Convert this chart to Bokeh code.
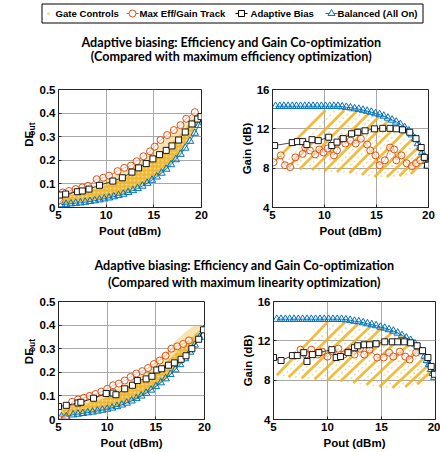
from math import pi
from bokeh.plotting import figure
from bokeh.models import Range1d, FixedTicker
from bokeh.layouts import column, row
from bokeh.embed import file_html
from bokeh.resources import INLINE
from bokeh.core.properties import value

# ---------------- data ----------------
legend_labels = ["Gate Controls", "Max Eff/Gain Track", "Adaptive Bias", "Balanced (All On)"]
title_top = ["Adaptive biasing: Efficiency and Gain Co-optimization",
             "(Compared with maximum efficiency optimization)"]
title_bottom = ["Adaptive biasing: Efficiency and Gain Co-optimization",
                "(Compared with maximum linearity optimization)"]
x_ticks = [5, 10, 15, 20]
de_ticks = [0, 0.1, 0.2, 0.3, 0.4, 0.5]
gain_ticks = [4, 8, 12, 16]

# --- top-left: DE, efficiency comparison
de1_circ_x = [5.1, 5.45, 6.1, 6.8, 7.5, 8.1, 9.0, 9.7, 10.3, 11.2, 11.9, 12.6, 13.2, 13.9, 14.6, 15.1, 15.7, 16.4, 17.1, 17.8, 18.4, 19.3]
de1_circ_y = [0.03, 0.064, 0.07, 0.078, 0.085, 0.092, 0.12, 0.126, 0.135, 0.154, 0.168, 0.178, 0.196, 0.217, 0.238, 0.258, 0.286, 0.307, 0.328, 0.349, 0.376, 0.404]
de1_sq_x = [5.1, 5.75, 7.0, 7.5, 8.2, 9.3, 10.7, 11.7, 12.7, 13.4, 14.2, 14.9, 15.6, 16.3, 16.9, 17.6, 18.3, 19.0, 19.6, 19.95]
de1_sq_y = [0.053, 0.057, 0.067, 0.07, 0.078, 0.094, 0.112, 0.126, 0.15, 0.168, 0.186, 0.206, 0.224, 0.242, 0.261, 0.286, 0.32, 0.354, 0.375, 0.385]
de1_tri_x = [5.3, 5.8, 6.3, 6.8, 7.3, 7.8, 8.3, 8.8, 9.3, 9.8, 10.3, 10.8, 11.3, 11.8, 12.3, 12.8, 13.3, 13.8, 14.3, 14.8, 15.3, 15.8, 16.3, 16.8, 17.3, 17.8, 18.3, 18.8, 19.3, 19.7, 20.0]
de1_tri_y = [0.012, 0.014, 0.016, 0.018, 0.02, 0.023, 0.026, 0.029, 0.033, 0.037, 0.041, 0.046, 0.051, 0.057, 0.064, 0.072, 0.081, 0.091, 0.103, 0.116, 0.13, 0.146, 0.163, 0.182, 0.203, 0.226, 0.252, 0.281, 0.315, 0.348, 0.378]
de1_band_x = [5.3, 6, 7, 8, 9, 10, 11, 12, 13, 14, 15, 16, 17, 18, 19, 19.8]
de1_band_lo = [0.015, 0.018, 0.022, 0.028, 0.034, 0.04, 0.05, 0.063, 0.08, 0.1, 0.125, 0.155, 0.195, 0.245, 0.31, 0.37]
de1_band_hi = [0.04, 0.05, 0.06, 0.07, 0.08, 0.095, 0.11, 0.13, 0.15, 0.175, 0.205, 0.24, 0.28, 0.32, 0.37, 0.39]
de1_band_out = [0.05, 0.065, 0.075, 0.085, 0.1, 0.12, 0.14, 0.16, 0.185, 0.21, 0.245, 0.28, 0.315, 0.35, 0.39, 0.395]

# --- bottom-left: DE, linearity comparison
de2_circ_x = [5.0, 5.7, 6.4, 7.0, 7.6, 8.2, 8.8, 9.4, 10.0, 10.6, 11.2, 11.8, 12.4, 13.0, 13.6, 14.2, 14.8, 15.4, 16.0, 16.6, 17.2, 17.8, 18.4]
de2_circ_y = [0.003, 0.003, 0.075, 0.085, 0.092, 0.1, 0.108, 0.118, 0.13, 0.145, 0.152, 0.165, 0.18, 0.195, 0.205, 0.218, 0.235, 0.25, 0.27, 0.3, 0.31, 0.32, 0.335]
de2_sq_x = [5.0, 5.8, 7.0, 7.3, 8.6, 9.9, 10.6, 10.9, 11.8, 12.6, 13.1, 14.0, 14.6, 15.1, 15.6, 16.3, 16.9, 17.6, 18.1, 18.7, 19.4, 19.9]
de2_sq_y = [0.055, 0.06, 0.07, 0.073, 0.09, 0.11, 0.112, 0.105, 0.13, 0.145, 0.165, 0.172, 0.183, 0.21, 0.215, 0.23, 0.24, 0.255, 0.27, 0.3, 0.34, 0.38]
de2_tri_x = [5.3, 5.8, 6.5, 7.0, 7.5, 8.0, 8.5, 9.0, 9.5, 10.0, 10.5, 11.0, 11.5, 12.0, 12.5, 13.0, 13.5, 14.0, 14.5, 15.0, 15.5, 16.0, 16.5, 17.0, 17.5, 18.0, 18.5, 19.0, 19.5, 19.9]
de2_tri_y = [0.012, 0.012, 0.02, 0.023, 0.026, 0.029, 0.032, 0.036, 0.04, 0.044, 0.049, 0.055, 0.062, 0.07, 0.079, 0.089, 0.1, 0.112, 0.125, 0.14, 0.156, 0.173, 0.191, 0.211, 0.233, 0.258, 0.286, 0.316, 0.348, 0.38]
de2_band_x = [5.3, 6, 7, 8, 9, 10, 11, 12, 13, 14, 15, 16, 17, 18, 19, 19.8]
de2_band_lo = [0.012, 0.018, 0.025, 0.03, 0.037, 0.045, 0.055, 0.07, 0.085, 0.11, 0.14, 0.17, 0.21, 0.26, 0.32, 0.37]
de2_band_hi = [0.04, 0.05, 0.06, 0.07, 0.08, 0.095, 0.11, 0.13, 0.15, 0.175, 0.205, 0.24, 0.28, 0.32, 0.36, 0.39]
de2_band_out = [0.05, 0.06, 0.075, 0.09, 0.1, 0.115, 0.13, 0.15, 0.175, 0.21, 0.25, 0.29, 0.33, 0.37, 0.4, 0.4]

# --- top-right: Gain, efficiency comparison
g1_tri_x = [5.3, 5.7, 6.1, 6.5, 6.9, 7.3, 7.7, 8.1, 8.5, 8.9, 9.3, 9.7, 10.1, 10.5, 10.9, 11.3, 11.7, 12.1, 12.5, 12.9, 13.3, 13.7, 14.1, 14.5, 14.9, 15.3, 15.7, 16.1, 16.5, 16.9, 17.3, 17.7, 18.1, 18.4, 18.7, 19.0, 19.2, 19.4, 19.6, 19.75, 19.9]
g1_tri_y = [14.3, 14.3, 14.3, 14.3, 14.3, 14.3, 14.3, 14.3, 14.3, 14.3, 14.3, 14.3, 14.3, 14.3, 14.3, 14.3, 14.25, 14.2, 14.15, 14.05, 14.0, 13.9, 13.8, 13.7, 13.55, 13.45, 13.3, 13.1, 12.9, 12.7, 12.45, 12.15, 11.8, 11.4, 11.0, 10.5, 10.1, 9.6, 9.1, 8.7, 8.3]
g1_sq_x = [5.2, 6.9, 7.4, 7.9, 8.3, 8.8, 9.4, 10.4, 10.7, 11.2, 11.8, 12.6, 13.2, 13.9, 14.8, 15.6, 16.3, 16.9, 17.5, 18.2, 18.8, 19.3, 19.6, 19.9]
g1_sq_y = [10.3, 10.6, 10.7, 10.7, 10.4, 10.9, 10.8, 11.15, 10.3, 10.65, 11.0, 11.5, 11.65, 11.8, 12.0, 12.05, 12.05, 12.0, 11.9, 11.65, 11.0, 10.1, 9.1, 8.3]
g1_circ_x = [5.1, 5.8, 6.2, 6.7, 7.2, 7.9, 8.15, 8.6, 9.1, 9.5, 9.9, 10.3, 10.9, 11.2, 11.7, 12.0, 12.5, 13.0, 13.5, 14.1, 14.4, 14.9, 15.3, 15.8, 16.3, 16.7, 16.9, 17.4, 17.9, 18.4, 18.8, 19.2]
g1_circ_y = [8.6, 9.3, 8.3, 8.1, 9.1, 9.45, 10.1, 9.8, 9.4, 9.9, 9.6, 10.0, 9.3, 9.8, 11.0, 10.5, 10.8, 10.5, 11.0, 10.4, 9.8, 9.3, 8.3, 8.8, 10.1, 9.9, 8.8, 9.3, 8.5, 8.2, 8.5, 8.8]
# gate-control sweeps: strong stripes
g1_st_x0 = [5.4, 6.4, 7.6, 8.8, 10.0, 11.2, 12.4, 13.6, 14.8, 16.0, 17.2, 18.3]
g1_st_y0 = [8.9, 8.0, 7.9, 7.8, 7.7, 7.6, 7.5, 7.3, 7.1, 7.1, 7.2, 7.4]
g1_st_x1 = [10.1, 11.9, 13.1, 14.2, 15.2, 16.1, 16.9, 17.7, 18.4, 19.0, 19.4, 19.6]
g1_st_y1 = [13.9, 13.9, 13.8, 13.5, 13.2, 12.8, 12.3, 11.7, 10.9, 10.1, 9.5, 8.8]
# gate-control sweeps: faint stripes in between
g1_fs_x0 = [5.9, 7.0, 8.2, 9.4, 10.6, 11.8, 13.0, 14.2, 15.4, 16.6, 17.8]
g1_fs_y0 = [8.1, 7.95, 7.85, 7.75, 7.65, 7.55, 7.4, 7.2, 7.1, 7.15, 7.3]
g1_fs_x1 = [11.0, 12.5, 13.6, 14.7, 15.7, 16.5, 17.3, 18.0, 18.7, 19.2, 19.5]
g1_fs_y1 = [13.9, 13.85, 13.65, 13.35, 13.0, 12.55, 12.0, 11.3, 10.5, 9.8, 9.1]

# --- bottom-right: Gain, linearity comparison
g2_tri_x = [5.3, 5.7, 6.1, 6.5, 6.9, 7.3, 7.7, 8.1, 8.5, 8.9, 9.3, 9.7, 10.1, 10.5, 10.9, 11.3, 11.7, 12.1, 12.5, 12.9, 13.3, 13.7, 14.1, 14.5, 14.9, 15.3, 15.7, 16.1, 16.5, 16.9, 17.3, 17.7, 18.1, 18.4, 18.7, 19.0, 19.2, 19.4, 19.6, 19.75, 19.9]
g2_tri_y = [14.2, 14.2, 14.2, 14.2, 14.2, 14.2, 14.2, 14.2, 14.2, 14.2, 14.2, 14.2, 14.2, 14.2, 14.2, 14.2, 14.15, 14.1, 14.0, 13.95, 13.85, 13.75, 13.65, 13.55, 13.4, 13.3, 13.15, 13.0, 12.8, 12.55, 12.3, 12.05, 11.7, 11.3, 10.9, 10.45, 10.0, 9.6, 9.1, 8.7, 8.3]
g2_sq_x = [5.0, 5.7, 6.75, 7.2, 7.8, 8.1, 8.6, 9.2, 10.4, 10.8, 11.2, 11.9, 12.5, 12.8, 13.4, 13.9, 14.5, 15.3, 16.0, 16.5, 17.1, 17.7, 18.3, 18.8, 19.3, 19.6, 19.9]
g2_sq_y = [10.3, 10.0, 10.5, 10.5, 10.8, 9.9, 10.6, 10.8, 11.1, 10.3, 10.4, 10.8, 11.3, 11.5, 11.6, 11.6, 11.7, 11.9, 11.9, 11.9, 11.9, 11.8, 11.5, 11.0, 10.3, 9.4, 8.6]
g2_circ_x = [7.0, 7.5, 8.0, 8.5, 9.1, 9.5, 10.0, 10.5, 11.0, 11.5, 11.9, 12.5, 13.0, 13.4, 13.9, 14.6, 15.2, 15.7, 16.1, 16.7, 17.2, 17.6, 18.2]
g2_circ_y = [10.5, 11.1, 10.6, 11.1, 10.6, 10.9, 10.4, 10.9, 11.2, 10.6, 10.9, 10.6, 11.2, 10.6, 11.1, 10.3, 10.3, 10.8, 10.4, 10.9, 10.4, 10.1, 10.8]
g2_st_x0 = [5.3, 6.4, 7.6, 8.8, 10.0, 11.2, 12.4, 13.6, 14.8, 16.0, 17.2, 18.3]
g2_st_y0 = [8.5, 8.3, 8.2, 8.1, 8.0, 7.9, 7.7, 7.5, 7.3, 7.2, 7.3, 7.6]
g2_st_x1 = [10.0, 11.6, 12.8, 14.0, 15.0, 16.0, 16.9, 17.7, 18.4, 19.0, 19.4, 19.6]
g2_st_y1 = [13.9, 13.9, 13.7, 13.5, 13.3, 12.9, 12.5, 11.8, 11.1, 10.3, 9.6, 8.9]
g2_fs_x0 = [5.9, 7.0, 8.2, 9.4, 10.6, 11.8, 13.0, 14.2, 15.4, 16.6, 17.8]
g2_fs_y0 = [8.4, 8.25, 8.15, 8.05, 7.95, 7.8, 7.6, 7.4, 7.25, 7.25, 7.45]
g2_fs_x1 = [10.8, 12.2, 13.4, 14.5, 15.5, 16.5, 17.3, 18.0, 18.7, 19.2, 19.5]
g2_fs_y1 = [13.9, 13.8, 13.6, 13.4, 13.1, 12.7, 12.1, 11.4, 10.7, 9.9, 9.2]

# ---------------- style / layout ----------------
ORANGE = "#D95319"
BLUE = "#0072BD"
GOLD = "#EDB120"
FONT = "Liberation Sans"
TITLE_FONT = "Lato"
FS = "11.5px"

# legend layout (pixel positions inside the 440-wide header strip)
LEG_BOX = (41.5, 422.5, 3.5, 22.5)          # left, right, top, bottom (from page top)
LEG_Y = 13                                   # centre line of legend entries
LEG_GLYPH_X = [48, 132, 241, 331]
LEG_TEXT_X = [55, 139, 250, 337]


def make_fig(width, height, bl, br, bt, bb, yr, yticks, ylabel):
    p = figure(width=width, height=height, x_range=Range1d(5, 20), y_range=Range1d(*yr),
               output_backend="svg", toolbar_location=None,
               min_border_left=bl, min_border_right=br, min_border_top=bt, min_border_bottom=bb)
    p.xaxis.ticker = FixedTicker(ticks=x_ticks)
    p.yaxis.ticker = FixedTicker(ticks=yticks)
    if yticks[0] == 0:
        p.yaxis.major_label_overrides = {0: "0"}
    for ax in (p.xaxis[0], p.yaxis[0]):
        ax.major_label_text_font = FONT
        ax.major_label_text_font_style = "bold"
        ax.major_label_text_font_size = FS
        ax.major_label_text_color = "black"
        ax.axis_label_text_font = FONT
        ax.axis_label_text_font_style = "bold"
        ax.axis_label_text_font_size = FS
        ax.axis_label_text_color = "black"
        ax.major_tick_in = 3
        ax.major_tick_out = 0
        ax.minor_tick_in = 0
        ax.minor_tick_out = 0
        ax.axis_line_color = "#262626"
        ax.major_tick_line_color = "#262626"
        ax.major_label_standoff = 3
    p.xaxis.axis_label = "Pout (dBm)"
    p.xaxis.axis_label_standoff = 3
    if ylabel:
        p.yaxis.axis_label = ylabel
        p.yaxis.axis_label_standoff = 1
    p.grid.grid_line_color = "#a8a8a8"
    p.grid.grid_line_width = 1
    p.outline_line_color = "#262626"
    p.outline_line_width = 1
    p.background_fill_color = "white"
    p.border_fill_color = "white"
    return p


def blank_fig(width, height):
    p = figure(width=width, height=height, x_range=Range1d(0, width), y_range=Range1d(0, height),
               output_backend="svg", toolbar_location=None, min_border=0)
    p.axis.visible = False
    p.grid.visible = False
    p.outline_line_color = None
    return p


def de_label_fig(height, y_de, x_base):
    # narrow strip left of a DE plot holding the y-axis label "DE" with subscript "out"
    p = blank_fig(36, height)
    p.text(x=[x_base], y=[y_de], text=["DE"], angle=pi / 2, text_align="left",
           text_baseline="alphabetic", text_font=value(FONT), text_font_style="bold",
           text_font_size=FS, text_color="black")
    p.text(x=[x_base + 3.5], y=[y_de + 16.5], text=["out"], angle=pi / 2, text_align="left",
           text_baseline="alphabetic", text_font=value(FONT), text_font_style="bold",
           text_font_size="8.5px", text_color="black")
    return p


def draw_series(p, cx, cy, sx, sy, tx, ty):
    p.line(tx, ty, line_color=BLUE, line_width=1)
    p.scatter(tx, ty, marker="triangle", size=7.5, line_color=BLUE, fill_color=None, line_width=1)
    p.line(cx, cy, line_color=ORANGE, line_width=0.8)
    p.scatter(cx, cy, marker="circle", size=7, line_color=ORANGE, fill_color="white", fill_alpha=0.5, line_width=1)
    p.line(sx, sy, line_color="black", line_width=0.7)
    p.scatter(sx, sy, marker="square", size=6, line_color="black", fill_color="white", line_width=0.9)


def de_plot(width, height, bl, br, bt, bb, bx, blo, bhi, bout, cx, cy, sx, sy, tx, ty):
    p = make_fig(width, height, bl, br, bt, bb, (0, 0.5), de_ticks, None)
    p.varea(x=bx, y1=blo, y2=bout, fill_color=GOLD, fill_alpha=0.35)
    p.varea(x=bx, y1=blo, y2=bhi, fill_color=GOLD, fill_alpha=0.85,
            hatch_pattern=".", hatch_color="#FBE7A8", hatch_alpha=0.7, hatch_scale=4)
    draw_series(p, cx, cy, sx, sy, tx, ty)
    return p


def gain_plot(width, height, bl, br, bt, bb, x0, y0, x1, y1, fx0, fy0, fx1, fy1,
              cx, cy, sx, sy, tx, ty):
    p = make_fig(width, height, bl, br, bt, bb, (4, 16), gain_ticks, "Gain (dB)")
    p.segment(x0=fx0, y0=fy0, x1=fx1, y1=fy1, line_color=GOLD, line_width=1.5, line_alpha=0.45,
              line_dash="2 3")
    p.segment(x0=x0, y0=y0, x1=x1, y1=y1, line_color=GOLD, line_width=2.8, line_alpha=0.85)
    draw_series(p, cx, cy, sx, sy, tx, ty)
    return p


def add_titles(p, lines, xs, ys):
    p.text(x=xs, y=ys, text=lines, text_align="center", text_baseline="middle",
           text_font=value(TITLE_FONT), text_font_style="bold", text_font_size="12.6px",
           text_color="black")


# header: legend + first title
H0 = 70
header = blank_fig(440, H0)
l, r, t, b = LEG_BOX
header.quad(left=[l], right=[r], top=[H0 - t], bottom=[H0 - b], fill_color="white",
            line_color="black", line_width=1)
ly = H0 - LEG_Y
gx = LEG_GLYPH_X
header.scatter([gx[0]], [ly], marker="circle", size=3, line_color=None, fill_color="#F3D98A")
for cx_, col, mk, sz in [(gx[1], ORANGE, "circle", 7), (gx[2], "black", "square", 6), (gx[3], BLUE, "triangle", 7)]:
    header.segment(x0=[cx_ - 6], y0=[ly], x1=[cx_ + 6], y1=[ly], line_color=col, line_width=1)
    header.scatter([cx_], [ly], marker=mk, size=sz, line_color=col, fill_color="white", line_width=1)
header.text(x=LEG_TEXT_X, y=[ly] * 4, text=legend_labels, text_align="left", text_baseline="middle",
            text_font=value(FONT), text_font_style="bold", text_font_size="9.6px", text_color="black")
add_titles(header, title_top, [231, 231], [H0 - 42, H0 - 55.5])

lab1 = de_label_fig(175, 90, 28)
p1 = de_plot(194, 175, 18, 29, 17, 38, de1_band_x, de1_band_lo, de1_band_hi, de1_band_out,
             de1_circ_x, de1_circ_y, de1_sq_x, de1_sq_y, de1_tri_x, de1_tri_y)
p2 = gain_plot(210, 175, 42, 12, 19, 38, g1_st_x0, g1_st_y0, g1_st_x1, g1_st_y1,
               g1_fs_x0, g1_fs_y0, g1_fs_x1, g1_fs_y1,
               g1_circ_x, g1_circ_y, g1_sq_x, g1_sq_y, g1_tri_x, g1_tri_y)
H1 = 45
mid = blank_fig(440, H1)
add_titles(mid, title_bottom, [244, 244], [H1 - 19.5, H1 - 36.5])
lab2 = de_label_fig(162, 76, 28)
p3 = de_plot(194, 162, 17, 26, 9, 33, de2_band_x, de2_band_lo, de2_band_hi, de2_band_out,
             de2_circ_x, de2_circ_y, de2_sq_x, de2_sq_y, de2_tri_x, de2_tri_y)
p4 = gain_plot(210, 162, 43, 5, 11, 31, g2_st_x0, g2_st_y0, g2_st_x1, g2_st_y1,
               g2_fs_x0, g2_fs_y0, g2_fs_x1, g2_fs_y1,
               g2_circ_x, g2_circ_y, g2_sq_x, g2_sq_y, g2_tri_x, g2_tri_y)

layout = column(header, row(lab1, p1, p2), mid, row(lab2, p3, p4))
open("out.html", "w").write(file_html(layout, INLINE))
